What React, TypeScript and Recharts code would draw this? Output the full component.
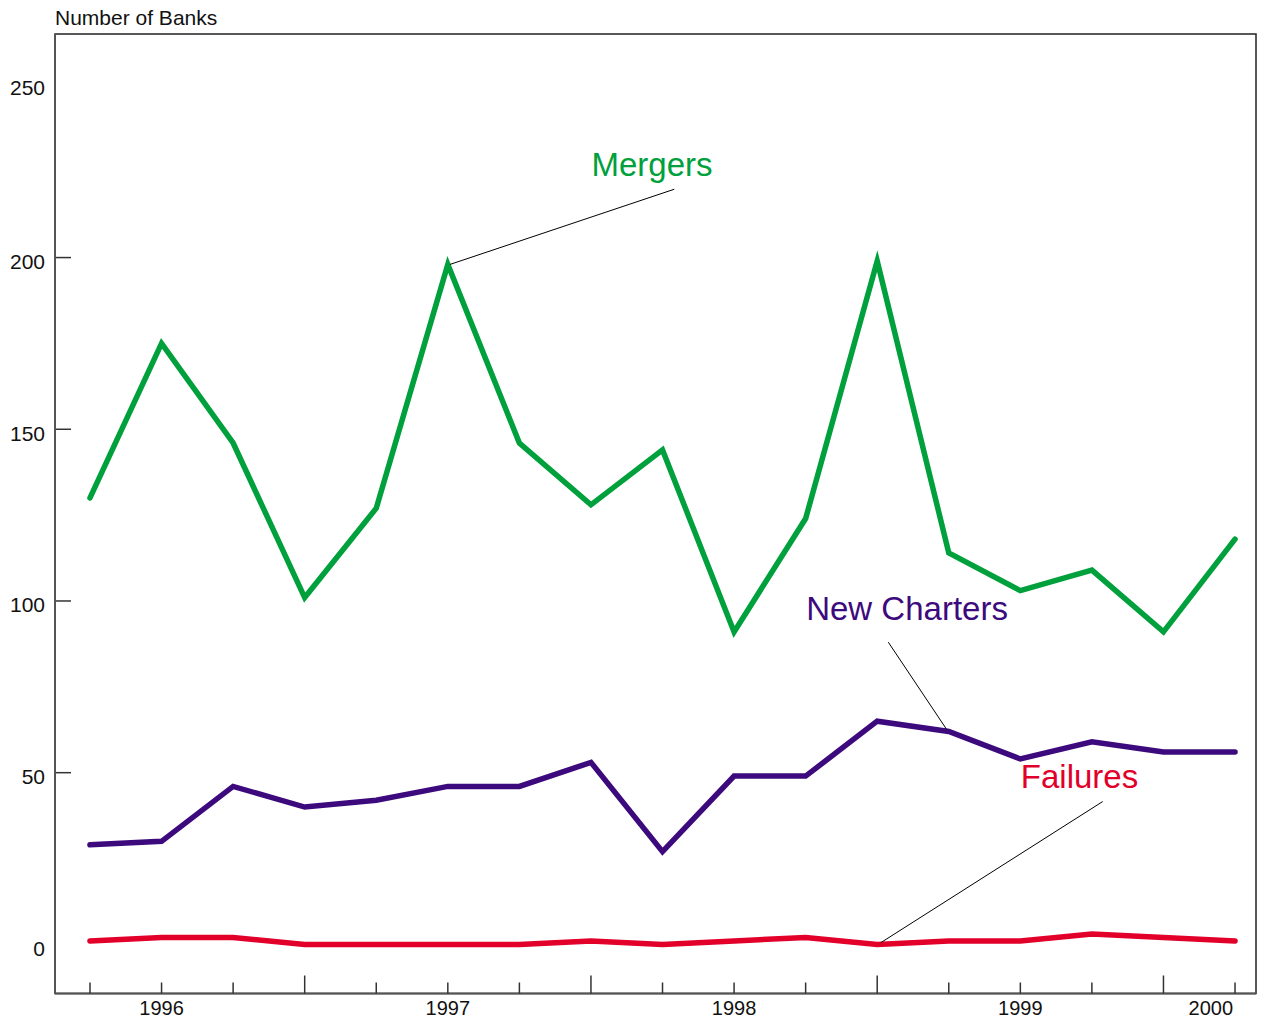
import React from "react";
import { LineChart, Line, XAxis, YAxis, ReferenceLine, ReferenceDot, ReferenceArea } from "recharts";

// quarterly counts, Q4 1995 .. Q4 1999
const quarters = [0, 1, 2, 3, 4, 5, 6, 7, 8, 9, 10, 11, 12, 13, 14, 15, 16];
const mergers = [130, 175, 146, 101, 127, 198, 146, 128, 144, 91, 124, 199, 114, 103, 109, 91, 118];
const newCharters = [29, 30, 46, 40, 42, 46, 46, 53, 27, 49, 49, 65, 62, 54, 59, 56, 56];
const failures = [1, 2, 2, 0, 0, 0, 0, 1, 0, 1, 2, 0, 1, 1, 3, 2, 1];

const yTicks = [0, 50, 100, 150, 200, 250];
const yTickMarks = [50, 100, 150, 200];
const yearLabels: Record<number, string> = { 1: "1996", 5: "1997", 9: "1998", 13: "1999", 16: "2000" };
const longTicks = [3, 7, 11, 15];

// annotation text + leader lines, in data coordinates
const annotations = [
  { name: "Mergers", color: "#00a03c", at: { x: 7.853, y: 227.3 }, from: { x: 8.165, y: 219.9 }, to: { x: 5.03, y: 198 } },
  { name: "New Charters", color: "#3d0a7d", at: { x: 11.417, y: 97.8 }, from: { x: 11.155, y: 88.0 }, to: { x: 11.97, y: 62.6 } },
  { name: "Failures", color: "#e2002b", at: { x: 13.827, y: 49.0 }, from: { x: 14.151, y: 41.6 }, to: { x: 11.05, y: 0.5 } },
];

const data = quarters.map((q, i) => ({
  q,
  mergers: mergers[i],
  newCharters: newCharters[i],
  failures: failures[i],
}));

const FONT = "'Liberation Sans', Arial, Helvetica, sans-serif";
const W = 1265;
const H = 1021;
const plotLeft = 55;
const plotBottom = 993.5;
const margin = { top: 34, right: 9, bottom: 0, left: 0 };
const xDomain: [number, number] = [-0.489, 16.293];
const yDomain: [number, number] = [-14.3, 265.1];
const yTickLen = 0.224; // inward tick length in x units (~16px)

const XTick = (props: any) => {
  const { x, payload } = props;
  const v = payload.value;
  const len = longTicks.includes(v) ? 18 : 11;
  const label = yearLabels[v];
  const isLast = v === quarters[quarters.length - 1];
  return (
    <g>
      <line x1={x} x2={x} y1={plotBottom} y2={plotBottom - len} stroke="#333" strokeWidth={1.5} />
      {label && (
        <text x={isLast ? x - 2 : x} y={plotBottom + 21} textAnchor={isLast ? "end" : "middle"} fontSize={20} fontFamily={FONT} fill="#111">
          {label}
        </text>
      )}
    </g>
  );
};

const YTick = (props: any) => {
  const { y, payload } = props;
  const v = payload.value;
  return (
    <text x={plotLeft - 10} y={y + (v === 250 ? 1.5 : 4)} dy="0.355em" textAnchor="end" fontSize={21} fontFamily={FONT} fill="#111">
      {v}
    </text>
  );
};

export default function App() {
  return (
    <div style={{ position: "absolute", left: 0, top: 0, width: W, height: H, background: "#fff" }}>
      <div style={{ position: "absolute", left: 55, top: 7, fontSize: 21, lineHeight: "21px", fontFamily: FONT, color: "#111" }}>
        Number of Banks
      </div>
      <LineChart width={W} height={H} data={data} margin={margin}>
        <ReferenceArea x1={xDomain[0]} x2={xDomain[1]} y1={yDomain[0]} y2={yDomain[1]} fill="none" stroke="#222" strokeWidth={1.5} ifOverflow="visible" />
        <XAxis
          dataKey="q"
          type="number"
          domain={xDomain}
          ticks={quarters}
          interval={0}
          allowDataOverflow
          height={H - plotBottom}
          tickLine={false}
          axisLine={{ stroke: "#555", strokeWidth: 2 }}
          tick={<XTick />}
        />
        <YAxis
          type="number"
          domain={yDomain}
          ticks={yTicks}
          interval={0}
          allowDataOverflow
          width={plotLeft}
          tickLine={false}
          axisLine={{ stroke: "#555", strokeWidth: 2 }}
          tick={<YTick />}
        />
        {yTickMarks.map((v) => (
          <ReferenceLine key={"yt" + v} segment={[{ x: xDomain[0], y: v }, { x: xDomain[0] + yTickLen, y: v }]} stroke="#333" strokeWidth={1.5} ifOverflow="visible" />
        ))}
        <Line dataKey="mergers" stroke="#00a03c" strokeWidth={5.5} dot={false} strokeLinecap="round" isAnimationActive={false} />
        <Line dataKey="newCharters" stroke="#3d0a7d" strokeWidth={5.5} dot={false} strokeLinecap="round" isAnimationActive={false} />
        <Line dataKey="failures" stroke="#e2002b" strokeWidth={5.5} dot={false} strokeLinecap="round" isAnimationActive={false} />
        {annotations.map((a) => (
          <ReferenceLine key={a.name + "-line"} segment={[a.from, a.to]} stroke="#000" strokeWidth={1} ifOverflow="visible" />
        ))}
        {annotations.map((a) => (
          <ReferenceDot
            key={a.name}
            x={a.at.x}
            y={a.at.y}
            r={0}
            fill="none"
            stroke="none"
            ifOverflow="visible"
            label={{ value: a.name, position: "center", fill: a.color, fontSize: 33, fontFamily: FONT }}
          />
        ))}
      </LineChart>
    </div>
  );
}
